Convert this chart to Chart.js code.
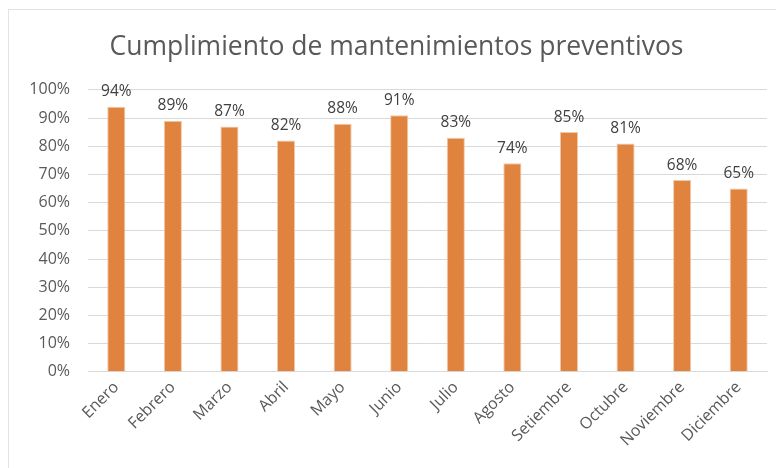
<!DOCTYPE html>
<html>
<head>
<meta charset="utf-8">
<script src="https://cdn.jsdelivr.net/npm/chart.js@4"></script>
<style>
  html, body { margin: 0; padding: 0; background: #fff; }
  #marco {
    position: absolute; left: 8px; top: 9px; width: 800px; height: 500px;
    border: 1px solid #e3e3e3; box-sizing: border-box;
  }
  #lienzo { position: absolute; left: 0; top: 0; }
</style>
</head>
<body>
<div id="marco"></div>
<canvas id="lienzo" width="776" height="468"></canvas>
<script>
// datos del grafico
const meses = ['Enero', 'Febrero', 'Marzo', 'Abril', 'Mayo', 'Junio', 'Julio', 'Agosto', 'Setiembre', 'Octubre', 'Noviembre', 'Diciembre'];
const cumplimiento = [94, 89, 87, 82, 88, 91, 83, 74, 85, 81, 68, 65];
const ticksY = [0, 10, 20, 30, 40, 50, 60, 70, 80, 90, 100];

// etiquetas de valor encima de cada barra
const etiquetasValor = {
    id: 'etiquetasValor',
    afterDatasetsDraw(chart) {
        const ctx = chart.ctx;
        const meta = chart.getDatasetMeta(0);
        ctx.save();
        ctx.font = '15.5px "Open Sans"';
        ctx.fillStyle = '#404040';
        ctx.textAlign = 'center';
        ctx.textBaseline = 'bottom';
        meta.data.forEach(function(barra, i) {
            ctx.fillText(chart.data.datasets[0].data[i] + '%', barra.x, barra.y - 7);
        });
        ctx.restore();
    }
};

function plotarGrafico(){
const ctx = document.getElementById('lienzo').getContext('2d');
new Chart(ctx, {
    type: 'bar',
    data: {
        labels: meses,
        datasets: [{
            data: cumplimiento,
            backgroundColor: '#E0833F',
            borderColor: '#F0C9A8',
            borderWidth: {left: 1, right: 1, top: 1, bottom: 0},
            barPercentage: 0.32,
            categoryPercentage: 1.0
        }]
    },
    options: {
        responsive: false,
        animation: false,
        layout: {
            padding: {left: 26, right: 9, top: 8, bottom: 12}
        },
        scales: {
            y: {
                min: 0,
                max: 100,
                afterBuildTicks: function(axis) {
                    axis.ticks = ticksY.map(v => ({value: v}));
                },
                afterFit: function(axis) {
                    axis.width = 62;
                },
                ticks: {
                    callback: v => v + '%',
                    color: '#595959',
                    font: {family: 'Open Sans', size: 16},
                    padding: 18
                },
                grid: {color: '#d9d9d9', drawTicks: false},
                border: {display: false}
            },
            x: {
                ticks: {
                    color: '#595959',
                    font: {family: 'Open Sans', size: 16},
                    maxRotation: 45,
                    minRotation: 45,
                    padding: 6
                },
                grid: {display: false, drawTicks: false},
                border: {color: '#d9d9d9'}
            }
        },
        plugins: {
            legend: {display: false},
            tooltip: {enabled: false},
            title: {
                display: true,
                text: 'Cumplimiento de mantenimientos preventivos',
                color: '#595959',
                font: {family: 'Open Sans', size: 26.5, weight: 'normal'},
                padding: {top: 24, bottom: 26}
            }
        }
    },
    plugins: [etiquetasValor]
});
}
window.onload = function(){
    plotarGrafico()
}
</script>
</body>
</html>
